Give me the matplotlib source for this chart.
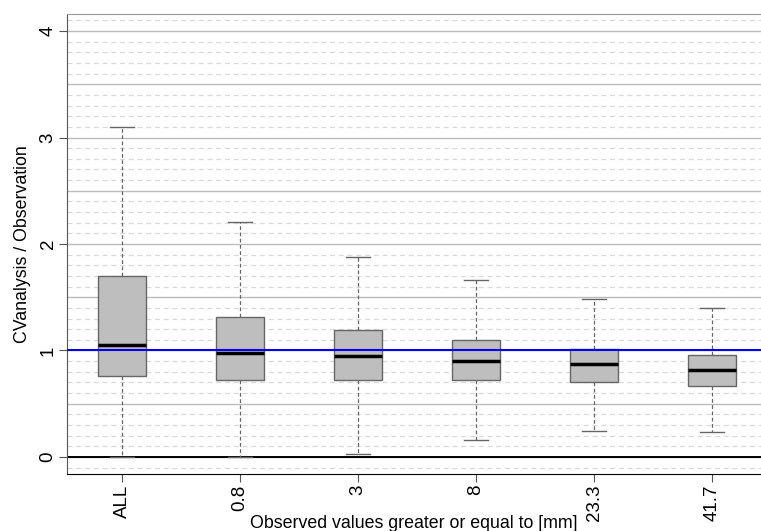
import numpy as np
import matplotlib.pyplot as plt

plt.rcParams["font.family"] = ["Liberation Sans", "DejaVu Sans"]

# box statistics
labels = ["ALL", "0.8", "3", "8", "23.3", "41.7"]
whis_lo = [0.00, 0.00, 0.03, 0.16, 0.24, 0.23]
q1 = [0.76, 0.72, 0.72, 0.72, 0.70, 0.67]
med = [1.05, 0.98, 0.95, 0.90, 0.87, 0.82]
q3 = [1.70, 1.31, 1.19, 1.10, 1.01, 0.96]
whis_hi = [3.10, 2.21, 1.88, 1.66, 1.48, 1.40]

stats = []
for i in range(len(labels)):
    stats.append({
        "label": labels[i],
        "whislo": whis_lo[i],
        "q1": q1[i],
        "med": med[i],
        "q3": q3[i],
        "whishi": whis_hi[i],
        "fliers": [],
    })

fig = plt.figure(figsize=(7.61, 5.31), dpi=100)
ax = fig.add_axes([67 / 761, 57 / 531, 1 - 67 / 761, 460 / 531])

# grid: fine dashed every 0.1, solid every 0.5
for v in np.arange(-0.1, 4.15, 0.1):
    v = round(v, 1)
    if abs(v * 2 - round(v * 2)) < 1e-6:
        ax.axhline(v, color="#bcbcbc", lw=1.0, zorder=0)
    else:
        ax.axhline(v, color="#d9d9d9", lw=0.9, ls=(0, (4, 3)), zorder=0)

ax.axhline(0, color="black", lw=1.4, zorder=1)

ax.bxp(
    stats,
    positions=np.arange(1, len(labels) + 1),
    widths=0.4,
    patch_artist=True,
    showfliers=False,
    boxprops=dict(facecolor="#bebebe", edgecolor="#666666", lw=1.0),
    medianprops=dict(color="black", lw=2.5),
    whiskerprops=dict(color="#666666", lw=0.9, ls=(0, (3, 2))),
    capprops=dict(color="#666666", lw=1.0),
    capwidths=0.2,
    zorder=2,
)

ax.axhline(1, color="#0000ee", lw=1.5, zorder=3)

ax.set_xlim(0.534, 6.415)
ax.set_ylim(-0.16, 4.16)

ax.set_yticks([0, 1, 2, 3, 4])
ax.set_yticklabels(["0", "1", "2", "3", "4"], rotation=90, va="center")
ax.set_xticks(np.arange(1, len(labels) + 1))
ax.set_xticklabels(labels, rotation=90)
ax.tick_params(labelsize=13.5, length=6, color="#555555", pad=1.5)

ax.spines["right"].set_visible(False)
ax.spines["top"].set_color("#999999")
ax.spines["left"].set_color("#555555")
ax.spines["bottom"].set_color("black")

ax.set_xlabel("Observed values greater or equal to [mm]", fontsize=12.8, labelpad=-4)
ax.set_ylabel("CVanalysis / Observation", fontsize=12.8, labelpad=6)

fig.savefig("out.png", dpi=100)
